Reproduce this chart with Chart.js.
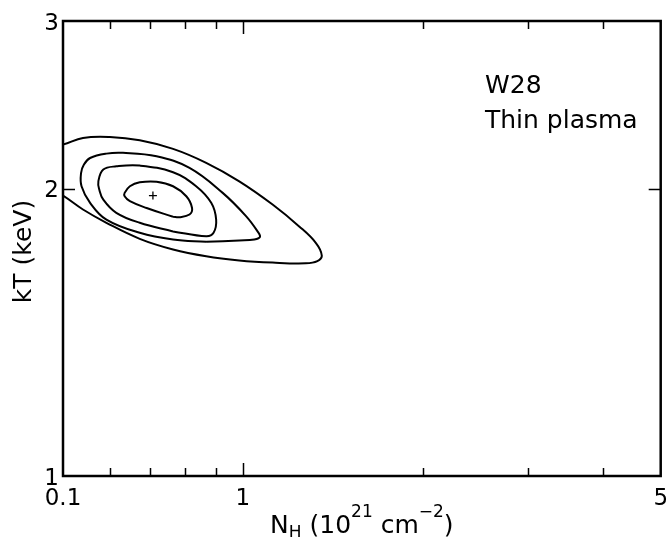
<!DOCTYPE html>
<html>
<head>
<meta charset="utf-8">
<script src="https://cdn.jsdelivr.net/npm/chart.js@4/dist/chart.umd.min.js"></script>
<style>
  html, body { margin: 0; padding: 0; background: #fff; }
  #c { display: block; }
</style>
</head>
<body>
<canvas id="c" width="666" height="537"></canvas>
<script>
// Confidence contours in the (N_H, kT) plane, N_H in 1e21 cm^-2, kT in keV.
// Innermost contour
const contour1N = [0.764, 0.690, 0.647, 0.634, 0.634, 0.647, 0.672, 0.717, 0.764, 0.804, 0.822, 0.814, 0.783, 0.764];
const contour1T = [1.870, 1.910, 1.942, 1.965, 1.981, 2.013, 2.032, 2.035, 2.013, 1.965, 1.910, 1.880, 1.868, 1.870];
// Second contour
const contour2N = [0.764, 0.672, 0.614, 0.584, 0.575, 0.573, 0.584, 0.614, 0.672, 0.764, 0.835, 0.885, 0.902, 0.893, 0.868, 0.764];
const contour2T = [1.805, 1.843, 1.888, 1.949, 1.997, 2.037, 2.096, 2.112, 2.116, 2.082, 2.013, 1.934, 1.857, 1.799, 1.784, 1.805];
// Third contour
const contour3N = [0.868, 0.764, 0.672, 0.591, 0.555, 0.537, 0.536, 0.542, 0.555, 0.591, 0.630, 0.717, 0.814, 0.925, 1.012, 1.058, 1.068, 1.045, 0.986, 0.868];
const contour3T = [1.760, 1.770, 1.799, 1.857, 1.934, 2.013, 2.078, 2.121, 2.155, 2.178, 2.182, 2.164, 2.104, 1.981, 1.873, 1.805, 1.781, 1.770, 1.766, 1.760];
// Outer contour (open to the left, runs past the plot edge)
const contour4N = [0.458, 0.500, 0.540, 0.599, 0.672, 0.764, 0.868, 0.986, 1.121, 1.242, 1.324, 1.355, 1.332, 1.274, 1.121, 0.986, 0.868, 0.764, 0.672, 0.591, 0.540, 0.500, 0.458];
const contour4T = [2.204, 2.226, 2.262, 2.267, 2.249, 2.203, 2.130, 2.037, 1.926, 1.827, 1.756, 1.703, 1.680, 1.671, 1.674, 1.683, 1.700, 1.728, 1.773, 1.843, 1.903, 1.968, 2.030];
// Best-fit point
const bestN = [0.707];
const bestT = [1.968];

// Axis ranges and ticks
const xRange = [0.5, 5];
const yRange = [1, 3];
const xMajorTicks = [1];
const xMinorTicks = [0.6, 0.7, 0.8, 0.9, 2, 3, 4];
const yMajorTicks = [2];
const xLabelValues = [0.5, 1, 5];
const xLabelTexts = ['0.1', '1', '5'];
const yLabelValues = [1, 2, 3];
const yLabelTexts = ['1', '2', '3'];

const FONT = '"DejaVu Sans", "Liberation Sans", sans-serif';

const toPoints = (xs, ys) => xs.map((v, i) => ({ x: v, y: ys[i] }));

const contourStyle = {
  showLine: true,
  borderColor: '#000',
  borderWidth: 2,
  pointRadius: 0,
  tension: 0.4,
  fill: false,
  clip: 0
};

const frameAndLabels = {
  id: 'frameAndLabels',
  afterDatasetsDraw(chart) {
    const { ctx, chartArea: a, scales: { x, y } } = chart;
    ctx.save();
    ctx.strokeStyle = '#000';
    ctx.fillStyle = '#000';
    ctx.lineCap = 'butt';

    // inward ticks on all four sides
    ctx.lineWidth = 1.5;
    const xTick = (v, len) => {
      const px = Math.round(x.getPixelForValue(v)) + 0.5;
      ctx.beginPath();
      ctx.moveTo(px, a.bottom); ctx.lineTo(px, a.bottom - len);
      ctx.moveTo(px, a.top); ctx.lineTo(px, a.top + len);
      ctx.stroke();
    };
    const yTick = (v, len) => {
      const py = Math.round(y.getPixelForValue(v)) + 0.5;
      ctx.beginPath();
      ctx.moveTo(a.left, py); ctx.lineTo(a.left + len, py);
      ctx.moveTo(a.right, py); ctx.lineTo(a.right - len, py);
      ctx.stroke();
    };
    xMajorTicks.forEach(v => xTick(v, 13));
    xMinorTicks.forEach(v => xTick(v, 8));
    yMajorTicks.forEach(v => yTick(v, 12));

    // frame
    ctx.lineWidth = 2.5;
    ctx.strokeRect(a.left, a.top, a.right - a.left, a.bottom - a.top);

    // tick labels
    ctx.font = '23px ' + FONT;
    ctx.textBaseline = 'alphabetic';
    ctx.textAlign = 'center';
    xLabelValues.forEach((v, i) => {
      ctx.fillText(xLabelTexts[i], x.getPixelForValue(v), a.bottom + 29);
    });
    ctx.textAlign = 'right';
    yLabelValues.forEach((v, i) => {
      ctx.fillText(yLabelTexts[i], a.left - 4, y.getPixelForValue(v) + 8.5);
    });

    // y axis title
    ctx.save();
    ctx.font = '25px ' + FONT;
    ctx.textAlign = 'center';
    ctx.textBaseline = 'middle';
    ctx.translate(24, (a.top + a.bottom) / 2 + 3);
    ctx.rotate(-Math.PI / 2);
    ctx.fillText('kT (keV)', 0, 0);
    ctx.restore();

    // x axis title with sub/superscripts
    const big = '25px ' + FONT, small = '17px ' + FONT;
    const parts = [
      ['N', big, 0], ['H', small, 5], [' (10', big, 0], ['21', small, -16],
      [' cm', big, 0], ['\u22122', small, -16], [')', big, 0]
    ];
    let total = 0;
    parts.forEach(p => { ctx.font = p[1]; total += ctx.measureText(p[0]).width; });
    let cx = (a.left + a.right) / 2 - total / 2;
    const base = 533;
    ctx.textAlign = 'left';
    ctx.textBaseline = 'alphabetic';
    parts.forEach(p => {
      ctx.font = p[1];
      ctx.fillText(p[0], cx, base + p[2]);
      cx += ctx.measureText(p[0]).width;
    });

    // annotation
    ctx.font = '25px ' + FONT;
    ctx.fillText('W28', 485, 93);
    ctx.fillText('Thin plasma', 485, 128);

    ctx.restore();
  }
};

new Chart(document.getElementById('c'), {
  type: 'scatter',
  data: {
    datasets: [
      Object.assign({ data: toPoints(contour1N, contour1T) }, contourStyle),
      Object.assign({ data: toPoints(contour2N, contour2T) }, contourStyle),
      Object.assign({ data: toPoints(contour3N, contour3T) }, contourStyle),
      Object.assign({ data: toPoints(contour4N, contour4T) }, contourStyle),
      {
        data: toPoints(bestN, bestT),
        showLine: false,
        pointStyle: 'cross',
        pointRadius: 4,
        borderColor: '#000',
        borderWidth: 1.3,
        clip: 0
      }
    ]
  },
  options: {
    responsive: false,
    animation: false,
    layout: { padding: { left: 0, right: 5, top: 21, bottom: 0 } },
    plugins: { legend: { display: false }, tooltip: { enabled: false } },
    scales: {
      x: {
        type: 'logarithmic', min: xRange[0], max: xRange[1],
        grid: { display: false }, border: { display: false },
        ticks: { display: false },
        afterFit(s) { s.height = 61; }
      },
      y: {
        type: 'logarithmic', min: yRange[0], max: yRange[1],
        grid: { display: false }, border: { display: false },
        ticks: { display: false },
        afterFit(s) { s.width = 63; }
      }
    }
  },
  plugins: [frameAndLabels]
});
</script>
</body>
</html>
